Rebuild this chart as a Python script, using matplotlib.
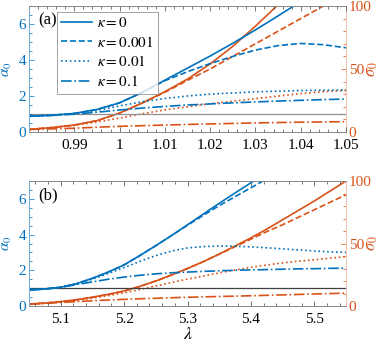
import numpy as np
import matplotlib
matplotlib.use("Agg")
import matplotlib.pyplot as plt
from matplotlib.ticker import MultipleLocator, FixedLocator, FuncFormatter
from matplotlib.lines import Line2D

plt.rcParams['font.family'] = ['Liberation Serif', 'DejaVu Serif']
plt.rcParams['mathtext.fontset'] = 'stix'
plt.rcParams['font.size'] = 10

BLUE = '#0072BD'
ORANGE = '#D95319'

kappas = ['0', '0.001', '0.01', '0.1']
styles = ['-', '--', ':', '-.']

# panel (a): lambda near 1
lam_a = [0.98, 0.985, 0.99, 0.995, 1.0, 1.005, 1.01, 1.015, 1.02, 1.025,
         1.03, 1.035, 1.04, 1.045, 1.05]
ticks_a = [0.99, 1.0, 1.01, 1.02, 1.03, 1.04, 1.05]
alpha_a = [
    [0.88, 0.93, 1.03, 1.25, 1.62, 2.2, 2.88, 3.55, 4.22, 4.93, 5.67, 6.45, 7.25],
    [0.88, 0.93, 1.03, 1.25, 1.62, 2.2, 2.85, 3.35, 3.8, 4.2, 4.55, 4.8, 4.92, 4.85, 4.68],
    [0.88, 0.93, 1.03, 1.2, 1.45, 1.68, 1.86, 2.0, 2.1, 2.17, 2.23, 2.27, 2.3, 2.32, 2.33],
    [0.88, 0.92, 0.99, 1.1, 1.22, 1.33, 1.42, 1.5, 1.56, 1.62, 1.67, 1.72, 1.76, 1.8, 1.83],
]
sigma_a = [
    [2, 3.5, 5.5, 9, 15, 23, 32, 42, 54, 68, 84, 101],
    [2, 3.5, 5.5, 9, 15, 23, 31.5, 41, 50, 60, 70, 80, 90, 100],
    [2, 3.5, 5.3, 8, 11, 14.5, 17.5, 20, 22.5, 24.5, 26.5, 28.5, 30.5, 32, 33],
    [2, 2.5, 3, 3.8, 4.5, 5, 5.5, 6, 6.4, 6.8, 7.2, 7.5, 7.8, 8.0, 8.2],
]

# panel (b): lambda near 5.3
lam_b = [5.05, 5.075, 5.1, 5.125, 5.15, 5.175, 5.2, 5.225, 5.25, 5.275, 5.3,
         5.325, 5.35, 5.375, 5.4, 5.425, 5.45, 5.475, 5.5, 5.525, 5.55]
ticks_b = [5.1, 5.2, 5.3, 5.4, 5.5]
alpha_b = [
    [0.9, 0.95, 1.05, 1.25, 1.55, 1.9, 2.3, 2.83, 3.38, 3.95, 4.55, 5.15, 5.75,
     6.33, 6.9, 7.5],
    [0.9, 0.95, 1.05, 1.25, 1.55, 1.9, 2.3, 2.83, 3.38, 3.95, 4.52, 5.08, 5.62,
     6.12, 6.62, 7.12],
    [0.9, 0.95, 1.05, 1.23, 1.5, 1.82, 2.15, 2.5, 2.82, 3.08, 3.25, 3.33, 3.36,
     3.35, 3.31, 3.26, 3.2, 3.14, 3.08, 3.03, 3.0],
    [0.9, 0.95, 1.05, 1.2, 1.35, 1.5, 1.62, 1.72, 1.8, 1.86, 1.9, 1.94, 1.97,
     2.0, 2.02, 2.04, 2.06, 2.08, 2.09, 2.11, 2.12],
]
sigma_b = [
    [1.5, 2.3, 3.5, 5.0, 7, 9.3, 12, 15.7, 20, 24.8, 30, 35.5, 41.5, 48, 54.5,
     61.5, 69, 76.5, 84, 92, 100],
    [1.5, 2.3, 3.5, 5.0, 7, 9.3, 12, 15.7, 20, 24.8, 30, 35.5, 41.5, 47.5, 53.5,
     59.5, 65, 71, 77, 83, 89],
    [1.5, 2.3, 3.3, 4.7, 6.3, 8.3, 10.5, 13.2, 16, 18.8, 21.5, 24, 26.5, 28.8,
     31, 32.8, 34.5, 35.8, 37, 38.3, 39.5],
    [1.5, 2.1, 2.8, 3.5, 4.2, 4.8, 5.3, 5.8, 6.2, 6.6, 7, 7.3, 7.6, 7.9, 8.2,
     8.55, 8.9, 9.25, 9.6, 9.95, 10.3],
]

W, H = 381, 346
fig = plt.figure(figsize=(W / 100, H / 100), dpi=100)


def fmt(v, pos):
    return '%g' % round(v, 3)


def panel(rect, lam, alphas, sigmas, xlim, xticks, xmin, tag, gray):
    ax = fig.add_axes(rect)
    ax2 = ax.twinx()
    ax.set_zorder(ax2.get_zorder() + 1)
    ax.patch.set_visible(False)
    ax.axhline(1, color=gray, lw=0.9, zorder=1)
    for a, s, ls in zip(alphas, sigmas, styles):
        ax.plot(lam[:len(a)], a, color=BLUE, ls=ls, lw=1.2)
        ax2.plot(lam[:len(s)], s, color=ORANGE, ls=ls, lw=1.2)
    ax.set_xlim(*xlim)
    ax.set_ylim(0, 7)
    ax2.set_ylim(0, 100)
    ax.xaxis.set_major_locator(FixedLocator(xticks))
    ax.xaxis.set_minor_locator(MultipleLocator(xmin))
    ax.xaxis.set_major_formatter(FuncFormatter(fmt))
    ax.yaxis.set_major_locator(MultipleLocator(2))
    ax.yaxis.set_minor_locator(MultipleLocator(0.5))
    ax2.yaxis.set_major_locator(MultipleLocator(50))
    ax2.yaxis.set_minor_locator(MultipleLocator(10))
    for a_ in (ax, ax2):
        a_.tick_params(which='both', direction='in', top=True, width=0.5)
        a_.tick_params(which='major', length=3.5, labelsize=11)
        a_.tick_params(which='minor', length=2)
        for sp in a_.spines.values():
            sp.set_linewidth(0.6)
            sp.set_color('#888888')
    ax.tick_params(axis='x', pad=5)
    ax.tick_params(axis='y', colors=BLUE, which='both', pad=2)
    ax.tick_params(axis='y', right=False)
    ax2.tick_params(axis='y', colors=ORANGE, which='both', pad=2)
    ax.tick_params(axis='x', colors='#444444', labelcolor='black', which='both')
    ax2.spines['left'].set_color(BLUE)
    ax2.spines['right'].set_color('#F0B8A0')
    ax.spines['left'].set_color('#7FB4DC')
    ax.spines['right'].set_visible(False)
    ax.set_ylabel(r'$\alpha_0$', color=BLUE, fontsize=11)
    ax.yaxis.set_label_coords(-0.048, 0.5)
    ax2.set_ylabel(r'$\sigma_0$', color=ORANGE, fontsize=12)
    ax2.yaxis.set_label_coords(1.058, 0.5)
    ax.text(0.028, 0.855, tag, transform=ax.transAxes, fontsize=12)
    return ax, ax2


ax_a, ax2_a = panel([29 / W, 1 - 132 / H, 317 / W, 126 / H], lam_a, alpha_a, sigma_a,
                    (0.98, 1.05), ticks_a, 0.002, '(a)', '#909090')
ax_b, ax2_b = panel([29 / W, 1 - 306 / H, 317 / W, 125 / H], lam_b, alpha_b, sigma_b,
                    (5.05, 5.55), ticks_b, 0.02, '(b)', '#404040')
ax_b.set_xlabel(r'$\lambda$', fontsize=13, labelpad=0)

handles = [Line2D([], [], color=BLUE, ls=ls, lw=1.2) for ls in styles]
labels = [r'$\kappa = %s$' % k for k in kappas]
leg = ax_a.legend(handles, labels, loc='upper left', bbox_to_anchor=(0.088, 0.955),
                  frameon=True, fancybox=False, edgecolor='#777777', fontsize=11,
                  handlelength=2.0, handletextpad=0.3, borderpad=0.3,
                  labelspacing=0.3, borderaxespad=0)
leg.get_frame().set_linewidth(0.6)

fig.savefig('out.png', dpi=100)
